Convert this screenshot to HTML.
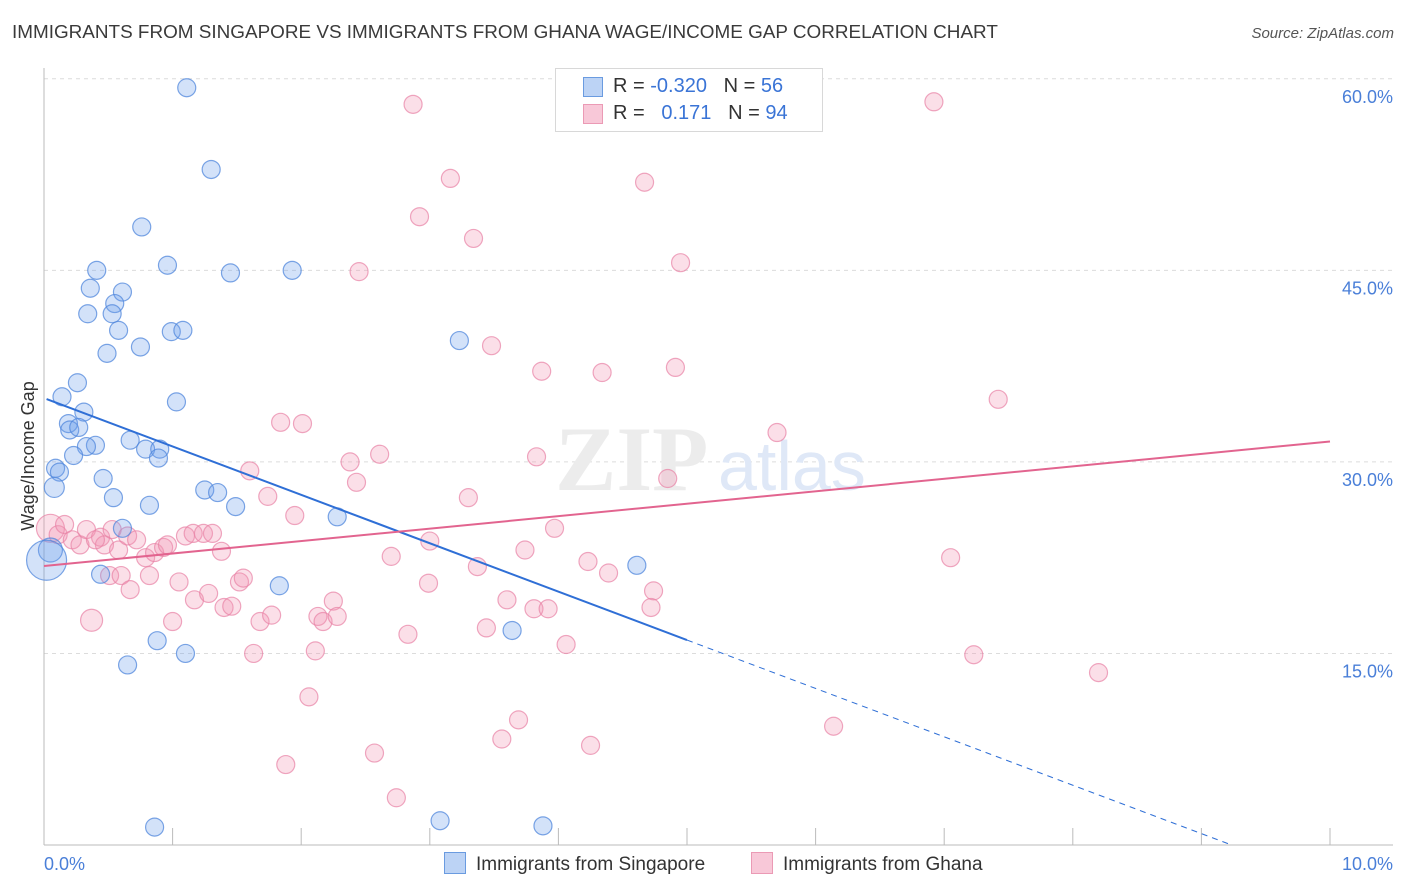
<!DOCTYPE html>
<html><head><meta charset="utf-8"><style>
body{margin:0;background:#fff;font-family:"Liberation Sans",sans-serif;}
#wrap{position:relative;width:1406px;height:892px;overflow:hidden;}
.t{position:absolute;white-space:nowrap;}
</style></head><body>
<div id="wrap">
<div class="t" style="left:12px;top:22px;font-size:18.9px;color:#3a3a3a;">IMMIGRANTS FROM SINGAPORE VS IMMIGRANTS FROM GHANA WAGE/INCOME GAP CORRELATION CHART</div>
<div class="t" style="right:12px;top:25px;font-size:15px;color:#555;font-style:italic;">Source: ZipAtlas.com</div>
<svg id="plot" width="1406" height="892" style="position:absolute;left:0;top:0"></svg>
</div>
<script>
const xTicks=[0,1,2,3,4,5,6,7,8,9,10];
const yTicks=[15,30,45,60];
const blueX=[1.11,1.30,0.76,0.41,0.96,1.45,1.93,0.36,0.61,0.55,0.34,0.53,0.58,0.99,1.08,0.75,0.49,3.23,0.26,0.14,1.03,0.31,0.19,0.20,0.27,0.67,0.79,0.90,0.40,0.33,0.23,0.89,0.09,0.12,0.08,0.46,0.54,1.25,1.35,0.82,1.49,2.28,0.61,0.05,0.02,1.83,0.44,4.61,3.64,0.88,1.10,0.65,0.86,3.08,3.88];
const blueY=[59.3,52.9,48.4,45.0,45.4,44.8,45.0,43.6,43.3,42.4,41.6,41.6,40.3,40.2,40.3,39.0,38.5,39.5,36.2,35.1,34.7,33.9,33.0,32.5,32.7,31.7,31.0,31.0,31.3,31.2,30.5,30.3,29.5,29.2,28.0,28.7,27.2,27.8,27.6,26.6,26.5,25.7,24.8,23.1,22.3,20.3,21.2,21.9,16.8,16.0,15.0,14.1,1.4,1.9,1.5];
const blueR=[9,9,9,9,9,9,9,9,9,9,9,9,9,9,9,9,9,9,9,9,9,9,9,9,9,9,9,9,9,9,9,9,9,9,10,9,9,9,9,9,9,9,9,12,20,9,9,9,9,9,9,9,9,9,9];
const pinkX=[2.87,6.92,3.16,4.67,2.92,3.34,4.95,2.45,3.48,3.87,4.34,4.91,7.42,1.84,2.01,5.70,2.61,2.38,3.83,1.60,2.43,4.85,3.30,1.74,1.95,3.97,3.00,2.70,3.74,4.23,4.39,3.37,7.05,2.99,3.60,4.74,3.81,3.92,4.72,2.83,3.44,4.06,7.23,8.20,2.06,3.69,6.14,3.56,4.25,2.57,1.88,2.74,0.05,0.11,0.16,0.22,0.28,0.33,0.44,0.47,0.53,0.58,0.40,0.65,0.72,0.79,0.86,0.93,0.96,1.10,1.16,1.24,1.31,1.38,1.52,1.55,0.37,0.51,0.60,0.67,0.82,1.00,1.05,1.17,1.28,1.40,1.46,1.63,1.68,1.77,2.13,2.17,2.25,2.28,2.11];
const pinkY=[58.0,58.2,52.2,51.9,49.2,47.5,45.6,44.9,39.1,37.1,37.0,37.4,34.9,33.1,33.0,32.3,30.6,30.0,30.4,29.3,28.4,28.7,27.2,27.3,25.8,24.8,23.8,22.6,23.1,22.2,21.3,21.8,22.5,20.5,19.2,19.9,18.5,18.5,18.6,16.5,17.0,15.7,14.9,13.5,11.6,9.8,9.3,8.3,7.8,7.2,6.3,3.7,24.8,24.3,25.1,23.9,23.5,24.7,24.1,23.5,24.7,23.1,23.9,24.2,23.9,22.5,22.9,23.3,23.5,24.2,24.4,24.4,24.4,23.0,20.6,20.9,17.6,21.1,21.1,20.0,21.1,17.5,20.6,19.2,19.7,18.6,18.7,15.0,17.5,18.0,17.9,17.5,19.1,17.9,15.2];
const blueTrend=[35.0,-3.79];
const pinkTrend=[21.85,0.975];
const X0=44,X1=1330,Y0=845,PXY=12.77;
const sx=v=>X0+(X1-X0)*v/10, sy=v=>Y0-v*PXY;
const svg=document.getElementById('plot');const NS='http://www.w3.org/2000/svg';
function mk(tag,attrs){const e=document.createElementNS(NS,tag);for(const k in attrs)e.setAttribute(k,attrs[k]);svg.appendChild(e);return e;}
yTicks.forEach(v=>{const l=mk('line',{x1:X0,x2:1393,y1:sy(v),y2:sy(v),stroke:'#dcdcdc','stroke-dasharray':'4,4'});


const t=mk('text',{x:1393,y:sy(v)+24,'text-anchor':'end','font-size':18,fill:'#4a7fd8','font-family':'Liberation Sans'});t.textContent=v.toFixed(1)+'%';

});
const ax=mk('line',{x1:X0,x2:1393,y1:Y0,y2:Y0,stroke:'#bbb'});


const ay=mk('line',{x1:X0,x2:X0,y1:68,y2:Y0,stroke:'#bbb'});


xTicks.forEach(v=>{const l=mk('line',{x1:sx(v),x2:sx(v),y1:Y0,y2:Y0-17,stroke:'#bbb'});

});
[[0,'0.0%','start',44],[10,'10.0%','end',1393]].forEach(a=>{const t=mk('text',{x:a[3],y:870,'text-anchor':a[2],'font-size':18,fill:'#4a7fd8','font-family':'Liberation Sans'});t.textContent=a[1];

});
const wm=mk('text',{x:555,y:490,'font-size':92,fill:'#ececec','font-family':'Liberation Serif','font-weight':'bold'});wm.textContent='ZIP';


const wm2=mk('text',{x:718,y:490,'font-size':70,fill:'#dfe8f7','font-family':'Liberation Sans'});wm2.textContent='atlas';


pinkX.forEach((v,i)=>{const c=mk('circle',{cx:sx(v),cy:sy(pinkY[i]),r:(i==52?14:(i==76?11:9)),fill:'rgba(242,150,180,0.3)',stroke:'rgba(232,130,165,0.7)','stroke-width':1.2});

});
blueX.forEach((v,i)=>{const c=mk('circle',{cx:sx(v),cy:sy(blueY[i]),r:blueR[i],fill:'rgba(110,160,235,0.3)',stroke:'rgba(80,135,220,0.75)','stroke-width':1.2});

});
const bEnd=-blueTrend[0]/blueTrend[1];
const b1=mk('line',{x1:sx(0.02),y1:sy(blueTrend[0]+blueTrend[1]*0.02),x2:sx(5),y2:sy(blueTrend[0]+blueTrend[1]*5),stroke:'#2f6fd6','stroke-width':2});


const b2=mk('line',{x1:sx(5),y1:sy(blueTrend[0]+blueTrend[1]*5),x2:sx(bEnd),y2:sy(0),stroke:'#2f6fd6','stroke-width':1,'stroke-dasharray':'6,5'});


const p1=mk('line',{x1:sx(0),y1:sy(pinkTrend[0]),x2:sx(10),y2:sy(pinkTrend[0]+pinkTrend[1]*10),stroke:'#e2648f','stroke-width':2});


const yt=mk('text',{x:0,y:0,transform:'translate(34,456) rotate(-90)','text-anchor':'middle','font-size':18,fill:'#333','font-family':'Liberation Sans'});yt.textContent='Wage/Income Gap';


</script>
<div class="t" style="left:555px;top:68px;width:266px;height:62px;border:1px solid #d8d8d8;background:#fff;font-size:20px;color:#333;">
 <div style="position:absolute;left:27px;top:8px;width:18px;height:18px;background:#bcd3f5;border:1px solid #6a9be0;"></div>
 <div style="position:absolute;left:57px;top:6px;">R = <span style="color:#3a74d6">-0.320</span>&nbsp;&nbsp;&nbsp;N = <span style="color:#3a74d6">56</span></div>
 <div style="position:absolute;left:27px;top:35px;width:18px;height:18px;background:#f8c8d8;border:1px solid #eb9ab5;"></div>
 <div style="position:absolute;left:57px;top:33px;">R = &nbsp;&nbsp;<span style="color:#3a74d6">0.171</span>&nbsp;&nbsp;&nbsp;N = <span style="color:#3a74d6">94</span></div>
</div>
<div class="t" style="left:444px;top:852px;font-size:19px;color:#333;"><span style="display:inline-block;width:20px;height:20px;background:#bcd3f5;border:1px solid #6a9be0;vertical-align:-4px;margin-right:10px;"></span>Immigrants from Singapore</div>
<div class="t" style="left:751px;top:852px;font-size:19px;color:#333;"><span style="display:inline-block;width:20px;height:20px;background:#f8c8d8;border:1px solid #eb9ab5;vertical-align:-4px;margin-right:10px;"></span>Immigrants from Ghana</div>
</body></html>
